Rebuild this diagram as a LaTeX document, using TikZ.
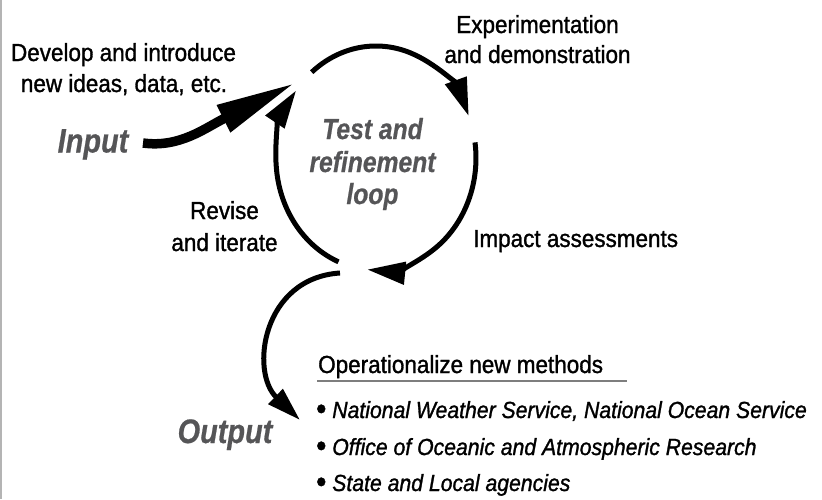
\documentclass[tikz,border=0pt]{standalone}
\usepackage{fontspec}
\setmainfont[FakeStretch=0.91,FakeBold=1.2]{Liberation Sans}
\newfontfamily\bigfont[FakeStretch=0.85,FakeBold=0.6]{Liberation Sans}
\usetikzlibrary{arrows.meta}
\definecolor{labelgray}{RGB}{85,85,87}
\definecolor{bordergray}{RGB}{180,180,180}
\newcommand{\bul}{\smash{\upshape\fontsize{32}{28}\selectfont\raisebox{-1.5pt}{•}}}
\tikzset{
  txt/.style={inner sep=0pt, anchor=base, font=\fontsize{24.7}{30}\selectfont},
  txtw/.style={txt, anchor=base west},
  bullet/.style={inner sep=0pt, anchor=base west, font=\fontsize{23.3}{28}\selectfont\itshape},
  grayhead/.style={inner sep=0pt, anchor=base, text=labelgray, font=\bigfont\fontsize{34}{40}\selectfont\bfseries\itshape},
  looptxt/.style={inner sep=0pt, anchor=base, text=labelgray, font=\bigfont\fontsize{29}{34}\selectfont\bfseries\itshape},
  loopline/.style={line width=5pt, -{Triangle[length=38pt,width=22pt]}},
  outline/.style={line width=5pt, -{Triangle[length=34pt,width=20pt]}},
  inarrow/.style={line width=9.5pt, -{Triangle[length=80pt,width=28pt]}}
}
\begin{document}
\begin{tikzpicture}[x=1pt,y=-1pt]
\useasboundingbox (0,0) rectangle (822,499);
% left border
\draw[bordergray, line width=1.5pt] (0.75,0) -- (0.75,499);

% texts
\node[txt] (dev1) at (123.5,61) {Develop and introduce};
\node[txt] (dev2) at (124,92) {new ideas, data, etc.};
\node[grayhead] (input) at (93,152.5) {Input};
\node[txt] (exp1) at (537.5,33) {Experimentation};
\node[txt] (exp2) at (537.5,63) {and demonstration};
\node[looptxt] (loop1) at (372.5,139) {Test and};
\node[looptxt] (loop2) at (372.5,172) {refinement};
\node[looptxt] (loop3) at (372.5,204) {loop};
\node[txt] (rev1) at (224.5,219) {Revise};
\node[txt] (rev2) at (224.5,251) {and iterate};
\node[txtw] (impact) at (473,247) {Impact assessments};
\node[txtw] (oper) at (318,373) {Operationalize new methods};
\draw[bordergray!70!black, line width=2pt] (317,380.5) -- (627,380.5);
\node[bullet] (b1) at (316,418) {\bul\ National Weather Service, National Ocean Service};
\node[bullet] (b2) at (316,455) {\bul\ Office of Oceanic and Atmospheric Research};
\node[bullet] (b3) at (316,491) {\bul\ State and Local agencies};
\node[grayhead] (output) at (225,443) {Output};

% loop
\coordinate (topS) at (311.7,72.2);
\coordinate (rightS) at (475.0,142.4);
\coordinate (leftS) at (338.5,261.8);
\draw[loopline] (topS) arc[start angle=-130, end angle=-22, x radius=100, y radius=112];
\draw[loopline] (rightS) arc[start angle=-8, end angle=95, x radius=100, y radius=112];
\draw[loopline] (leftS) arc[start angle=112, end angle=217, x radius=100, y radius=112];

% input arrow
\coordinate (inS) at (143,143);
\coordinate (inT) at (295,83);
\draw[inarrow] (inS) .. controls (180,148) and (205,128) .. (inT);

% output arrow
\coordinate (oS) at (340,273);
\coordinate (oT) at (300,420);
\draw[outline] (oS) .. controls (262,278) and (250,372) .. (oT);
\end{tikzpicture}
\end{document}
